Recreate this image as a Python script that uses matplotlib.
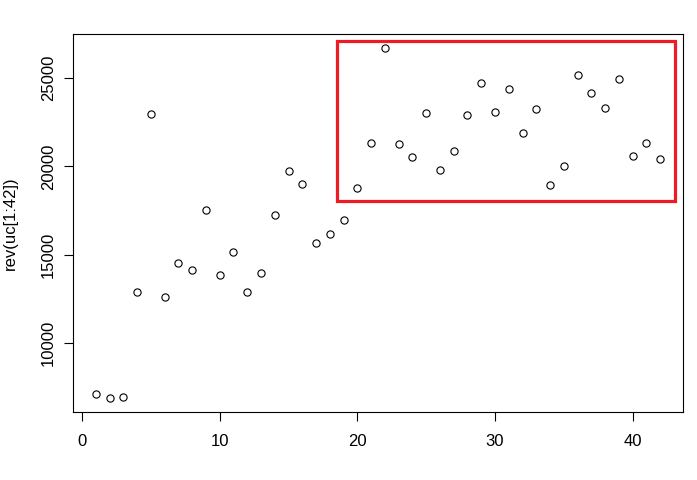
import matplotlib
matplotlib.use('Agg')
import matplotlib.pyplot as plt
import matplotlib.patches as patches

# values (index vs rev(uc[1:42]))
idx = list(range(1, 43))
uc_rev = [7096, 6870, 6927, 12870, 22944, 12587, 14511, 14115, 17511, 13832,
          15134, 12870, 13945, 17228, 19718, 18982, 15643, 16152, 16945, 18756,
          21302, 26680, 21246, 20510, 23001, 19775, 20850, 22888, 24699, 23058,
          24359, 21869, 23227, 18926, 20001, 25152, 24133, 23284, 24925, 20567,
          21302, 20397]

# highlighted region (rect drawn over the plot)
box_x = [18.55, 43.05]
box_y = [18020, 27111]

xticks = [0, 10, 20, 30, 40]
yticks = [10000, 15000, 20000, 25000]

plt.rcParams['font.family'] = ['Liberation Sans', 'DejaVu Sans']

fig = plt.figure(figsize=(6.97, 4.8), dpi=100)
W, H = 697.0, 480.0
# plot box in pixels: left 73.3, right 682.7, top 34.3, bottom 412.3
ax = fig.add_axes([73.3 / W, (H - 412.3) / H, (682.7 - 73.3) / W, (412.3 - 34.3) / H])

ax.plot(idx, uc_rev, linestyle='none', marker='o', markersize=5.2,
        markerfacecolor='none', markeredgecolor='black', markeredgewidth=0.8)

# R style limits: data range plus 4% each side
def r_lim(v):
    lo, hi = min(v), max(v)
    pad = 0.04 * (hi - lo)
    return lo - pad, hi + pad

ax.set_xlim(*r_lim(idx))
ax.set_ylim(*r_lim(uc_rev))

rect = patches.Rectangle((box_x[0], box_y[0]), box_x[1] - box_x[0], box_y[1] - box_y[0],
                         fill=False, edgecolor='#ED1C24', linewidth=2.3, clip_on=False)
ax.add_patch(rect)

ax.set_xticks(xticks)
ax.set_yticks(yticks)
ax.set_xticklabels([str(t) for t in xticks], fontsize=12)
ax.set_yticklabels([str(t) for t in yticks], fontsize=12, rotation=90, va='center')
ax.tick_params(length=6.5, width=0.8, color='black')
ax.tick_params(axis='x', pad=8.8)
ax.tick_params(axis='y', pad=6)
ax.set_ylabel('rev(uc[1:42])', fontsize=12, labelpad=16.5)

for s in ax.spines.values():
    s.set_linewidth(0.8)

fig.savefig('out.png', dpi=100)
